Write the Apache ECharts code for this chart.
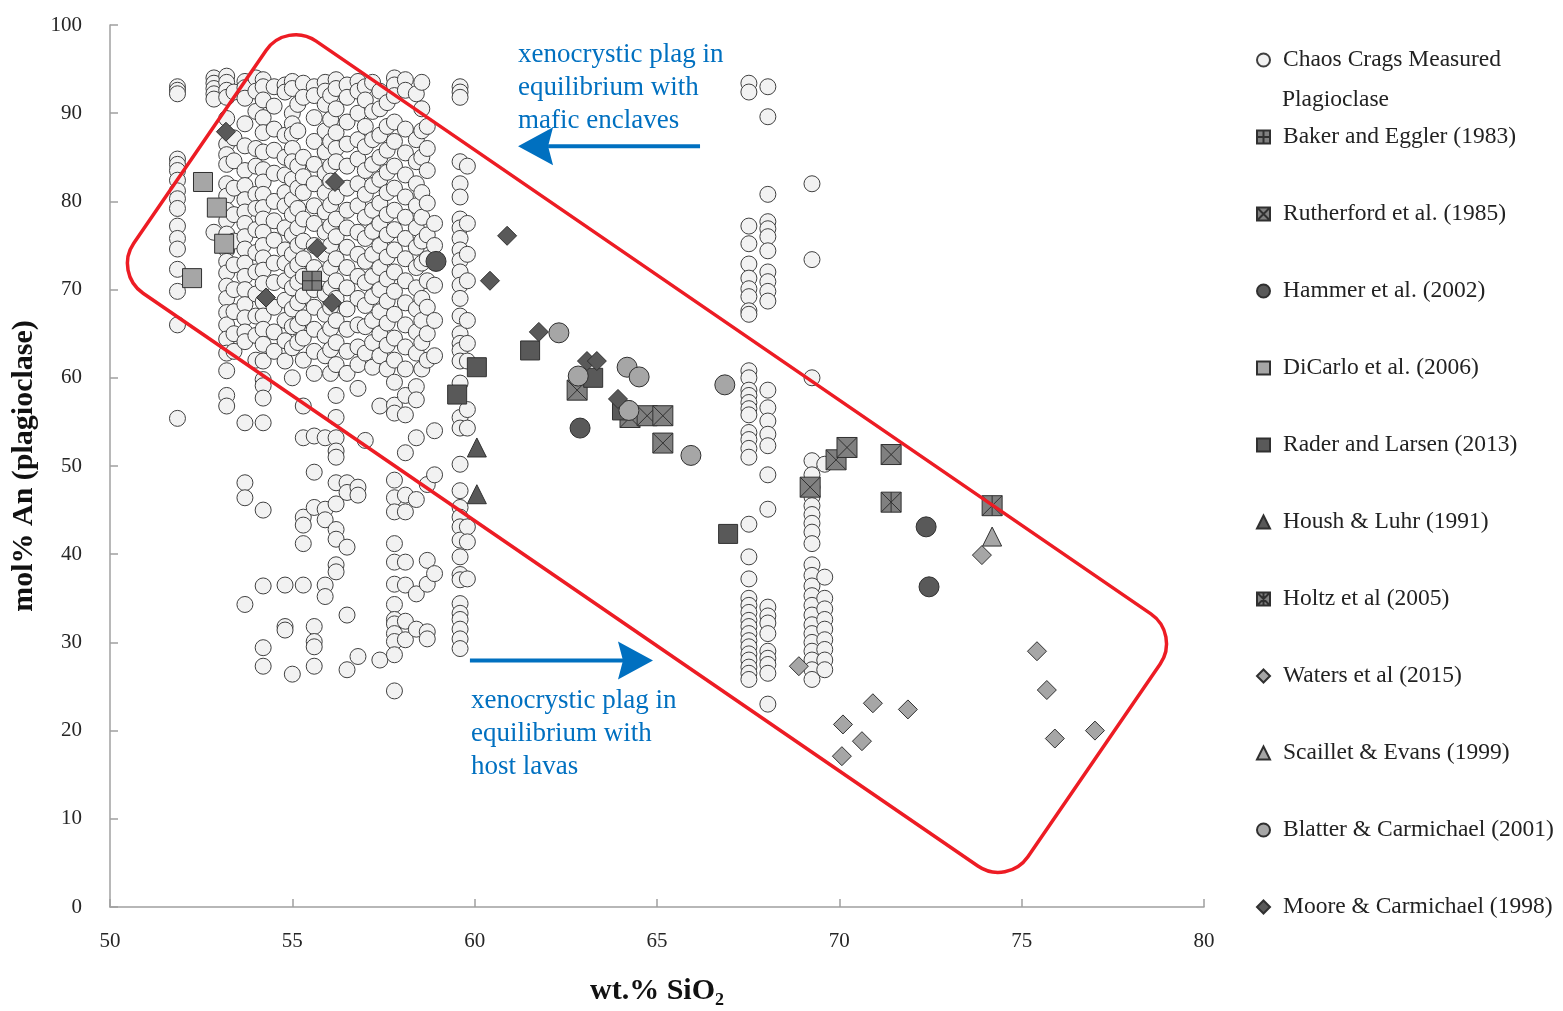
<!DOCTYPE html>
<html>
<head>
<meta charset="utf-8">
<title>Plagioclase An vs SiO2</title>
<script src="https://cdn.jsdelivr.net/npm/echarts@6/dist/echarts.min.js"></script>
<style>
  html, body { margin: 0; padding: 0; background: #ffffff; }
  #chart { width: 1563px; height: 1011px; }
</style>
</head>
<body>
<div id="chart"></div>
<script>
// Chaos Crags measured plagioclase: [SiO2, [An values]]
const chaosCols = [
  [51.85, [93.0, 92.6, 92.2, 84.8, 84.2, 83.5, 82.4, 81.2, 80.3, 79.2, 77.2, 75.8, 74.6, 72.3, 69.8, 66.0, 55.4]],
  [52.85, [94.0, 93.4, 92.8, 92.2, 91.6, 76.5]],
  [53.2, [94.2, 93.5, 92.6, 91.8, 89.4, 86.5, 85.3, 84.2, 82.0, 80.6, 79.0, 77.8, 76.3, 74.5, 73.2, 71.9, 70.4, 69.0, 67.4, 66.0, 64.4, 62.8, 60.8, 58.0, 56.8]],
  [53.4, [92.4, 87.2, 84.6, 81.5, 78.5, 75.5, 72.8, 70.0, 67.5, 65.0, 63.0]],
  [53.7, [93.6, 92.9, 91.7, 88.8, 86.3, 83.5, 81.8, 80.2, 78.8, 77.5, 76.0, 74.6, 73.0, 71.5, 70.0, 68.3, 66.8, 65.2, 64.1, 54.9, 48.1, 46.4, 34.3]],
  [54.0, [94.0, 92.5, 90.2, 86.0, 84.0, 80.8, 79.2, 76.8, 74.2, 72.0, 69.5, 67.0, 64.8, 62.0]],
  [54.2, [93.8, 93.0, 91.5, 89.5, 87.8, 85.6, 83.6, 82.2, 80.8, 79.3, 78.0, 76.5, 75.0, 73.6, 72.2, 70.7, 68.6, 67.0, 65.5, 63.8, 61.9, 59.8, 59.1, 57.7, 54.9, 45.0, 36.4, 29.4, 27.3]],
  [54.5, [93.0, 90.8, 88.2, 85.8, 83.2, 80.0, 77.8, 75.6, 73.0, 70.8, 68.0, 65.2, 63.0]],
  [54.8, [93.2, 92.4, 87.5, 85.0, 83.0, 81.0, 79.5, 77.0, 74.5, 73.0, 71.0, 68.8, 66.5, 64.2, 61.9, 36.5, 31.8, 31.4]],
  [55.0, [93.6, 92.8, 90.0, 88.8, 87.6, 86.0, 84.5, 82.5, 80.2, 78.5, 76.2, 74.0, 72.2, 70.2, 67.8, 65.8, 63.4, 60.0, 26.4]],
  [55.15, [91.0, 88.0, 84.0, 81.5, 79.2, 77.0, 75.0, 72.8, 70.8, 68.5, 66.0, 64.0]],
  [55.3, [93.4, 91.8, 85.0, 82.8, 81.0, 78.0, 75.5, 73.5, 71.5, 69.3, 66.8, 64.5, 62.0, 56.8, 53.2, 44.2, 43.3, 41.2, 36.5]],
  [55.6, [93.0, 92.0, 89.5, 86.8, 84.2, 82.0, 79.5, 77.5, 75.0, 72.5, 70.0, 68.0, 65.5, 63.0, 60.5, 53.4, 49.3, 45.3, 31.8, 30.1, 29.5, 27.3]],
  [55.9, [93.5, 92.5, 91.0, 88.0, 85.6, 83.2, 81.0, 78.8, 76.5, 74.0, 71.8, 69.5, 67.2, 64.8, 62.5, 53.2, 45.1, 43.9, 36.5, 35.2]],
  [56.05, [92.0, 89.3, 86.8, 84.0, 82.3, 79.6, 77.2, 75.0, 72.5, 70.2, 68.0, 65.6, 63.2, 60.5]],
  [56.2, [93.8, 92.8, 90.5, 87.8, 86.0, 84.5, 80.5, 78.0, 76.0, 73.5, 71.0, 69.0, 66.5, 64.0, 61.5, 58.0, 55.5, 53.2, 51.7, 51.0, 48.1, 45.7, 42.8, 41.7, 38.8, 38.0]],
  [56.5, [93.2, 91.8, 89.0, 86.5, 84.0, 81.5, 79.0, 77.0, 74.8, 72.5, 70.2, 67.8, 65.5, 63.0, 60.5, 48.1, 47.0, 40.8, 33.1, 26.9]],
  [56.8, [93.6, 92.5, 90.0, 87.0, 84.8, 82.0, 79.5, 76.5, 74.0, 71.5, 69.0, 66.0, 63.5, 61.5, 58.8, 47.6, 46.7, 28.4]],
  [57.0, [93.0, 91.5, 88.5, 86.2, 83.5, 80.8, 78.2, 75.8, 73.2, 70.8, 68.2, 65.8, 62.8, 52.9]],
  [57.2, [93.5, 90.2, 87.0, 84.2, 81.8, 79.0, 76.6, 74.0, 71.5, 69.2, 66.5, 64.0, 61.2]],
  [57.4, [92.5, 90.5, 87.5, 85.0, 82.5, 79.8, 77.5, 75.0, 72.5, 70.0, 67.5, 65.0, 62.5, 56.8, 28.0]],
  [57.6, [91.2, 88.5, 85.8, 83.3, 81.0, 78.5, 76.2, 73.7, 71.2, 68.7, 66.2, 63.7, 61.0]],
  [57.8, [94.0, 93.2, 92.0, 89.0, 86.8, 84.0, 81.5, 79.0, 76.8, 74.5, 72.0, 69.8, 67.2, 64.5, 62.0, 59.5, 56.9, 56.0, 48.4, 46.4, 44.8, 41.2, 39.1, 36.6, 34.3, 32.6, 32.1, 31.0, 30.1, 28.6, 24.5]],
  [58.1, [93.8, 92.6, 88.2, 85.5, 83.0, 80.5, 78.2, 75.8, 73.5, 71.0, 68.5, 66.0, 63.5, 61.0, 58.0, 55.8, 51.5, 46.7, 44.8, 39.1, 36.5, 32.4, 30.3]],
  [58.4, [92.2, 87.0, 84.5, 82.0, 79.5, 77.0, 74.8, 72.5, 70.2, 67.8, 65.2, 62.8, 59.0, 57.5, 53.2, 46.2, 35.5, 31.5]],
  [58.55, [93.5, 90.5, 88.0, 85.0, 81.0, 78.2, 75.5, 73.0, 69.0, 66.5, 64.0, 61.0]],
  [58.7, [88.5, 86.0, 83.5, 79.8, 76.2, 73.5, 71.0, 68.0, 65.0, 62.0, 47.9, 39.3, 36.6, 31.2, 30.4]],
  [58.9, [77.5, 75.0, 70.5, 66.5, 62.5, 54.0, 49.0, 37.8]],
  [59.6, [93.0, 92.4, 91.8, 84.5, 82.0, 80.5, 78.0, 77.0, 75.8, 74.5, 73.3, 72.0, 70.5, 69.0, 67.0, 65.0, 63.9, 63.1, 61.9, 59.4, 55.5, 54.3, 50.2, 47.2, 45.3, 44.2, 43.1, 41.6, 39.7, 37.7, 37.1, 34.4, 33.3, 32.6, 31.5, 30.4, 29.3]],
  [59.8, [84.0, 77.5, 74.0, 71.0, 66.5, 63.9, 61.9, 56.4, 54.3, 43.1, 41.4, 37.2]],
  [67.52, [93.4, 92.4, 77.2, 75.2, 72.9, 71.3, 70.1, 69.2, 67.6, 67.2, 60.8, 60.0, 58.6, 58.0, 57.2, 56.5, 55.8, 53.8, 53.0, 52.0, 51.0, 43.4, 39.7, 37.2, 35.0, 34.2, 33.4, 32.5, 31.8, 31.0, 30.2, 29.5, 28.7, 28.0, 27.2, 26.5, 25.8]],
  [68.04, [93.0, 89.6, 80.8, 77.7, 76.9, 76.0, 74.4, 72.0, 70.9, 69.8, 68.7, 58.6, 56.6, 55.1, 53.6, 52.3, 49.0, 45.1, 34.0, 33.0, 32.2, 31.0, 29.0, 28.2, 27.5, 26.5, 23.0]],
  [69.25, [82.0, 73.4, 60.0, 50.6, 49.0, 47.6, 46.5, 45.5, 44.5, 43.5, 42.5, 41.2, 38.8, 37.6, 36.4, 35.3, 34.2, 33.1, 32.0, 31.0, 30.0, 29.0, 28.0, 26.9, 25.8]],
  [69.6, [50.2, 37.4, 35.0, 33.8, 32.6, 31.5, 30.3, 29.2, 28.0, 26.9]]
];
const chaosData = chaosCols.flatMap(([x, ys]) => ys.map((y) => [x, y]));

// experimental / literature data [SiO2, An]
const bakerData = [[55.54, 71.0]];
const rutherfordData = [[62.81, 58.6], [64.26, 55.5], [64.73, 55.7], [65.16, 55.7], [65.16, 52.6],
  [69.2, 47.6], [69.91, 50.7], [70.21, 52.1], [71.42, 51.3]];
const hammerData = [[58.94, 73.2], [62.89, 54.3], [72.38, 43.1], [72.46, 36.3]];
const dicarloData = [[52.55, 82.2], [52.93, 79.3], [53.13, 75.2], [52.25, 71.3]];
const raderData = [[59.52, 58.1], [60.06, 61.2], [61.52, 63.1], [63.25, 60.0], [64.04, 56.3], [66.95, 42.3]];
const houshData = [[60.06, 52.1], [60.06, 46.8]];
const holtzData = [[71.42, 45.9], [74.19, 45.5]];
const watersData = [[68.89, 27.3], [70.1, 20.7], [70.62, 18.8], [70.07, 17.1], [70.92, 23.1], [71.88, 22.4],
  [73.91, 39.9], [75.42, 29.0], [75.69, 24.6], [75.91, 19.1], [77.01, 20.0]];
const scailletData = [[74.19, 42.0]];
const blatterData = [[62.31, 65.1], [62.84, 60.2], [64.18, 61.2], [64.51, 60.1], [64.23, 56.3], [65.93, 51.2], [66.86, 59.2]];
const mooreData = [[53.18, 87.9], [56.17, 82.2], [55.68, 74.7], [54.28, 69.1], [56.09, 68.5], [60.42, 71.0],
  [60.89, 76.1], [61.76, 65.2], [63.08, 61.9], [63.35, 61.9], [63.93, 57.6]];

// annotations, in data units
const boxCorners = [[54.85, 100.45], [50.08, 71.93], [79.37, 30.89]]; // top, left, right corner
const arrowLeft = [[66.18, 86.25], [61.19, 86.25]];
const arrowRight = [[59.87, 27.96], [64.89, 27.96]];
const noteTop = { at: [61.19, 98.5], text: 'xenocrystic plag in\nequilibrium with\nmafic enclaves' };
const noteBottom = { at: [59.9, 25.2], text: 'xenocrystic plag in\nequilibrium with\nhost lavas' };

const SERIF = '"Liberation Serif", "Times New Roman", serif';
const PLUS = 'path://M0,0H20V20H0Z M10,0V20 M0,10H20';
const CROSS = 'path://M0,0H20V20H0Z M0,0L20,20 M20,0L0,20';
const STAR = 'path://M0,0H20V20H0Z M0,0L20,20 M20,0L0,20 M10,0V20';

function scatter(name, data, symbol, size, fill) {
  return {
    name: name,
    type: 'scatter',
    data: data,
    symbol: symbol,
    symbolSize: size,
    itemStyle: { color: fill, borderColor: '#303030', borderWidth: 1, opacity: 1 },
    emphasis: { disabled: true },
    silent: true
  };
}

const series = [
  scatter('Chaos Crags Measured', chaosData, 'circle', 16, '#f2f2f2'),
  scatter('Baker and Eggler (1983)', bakerData, PLUS, 19, '#7f7f7f'),
  scatter('Rutherford et al. (1985)', rutherfordData, CROSS, 20, '#808080'),
  scatter('Hammer et al. (2002)', hammerData, 'circle', 20, '#595959'),
  scatter('DiCarlo et al. (2006)', dicarloData, 'rect', 19, '#a6a6a6'),
  scatter('Rader and Larsen (2013)', raderData, 'rect', 19, '#595959'),
  scatter('Housh & Luhr (1991)', houshData, 'triangle', 19, '#595959'),
  scatter('Holtz et al (2005)', holtzData, STAR, 20, '#808080'),
  scatter('Waters et al (2015)', watersData, 'diamond', 19, '#a6a6a6'),
  scatter('Scaillet & Evans (1999)', scailletData, 'triangle', 19, '#a6a6a6'),
  scatter('Blatter & Carmichael (2001)', blatterData, 'circle', 20, '#a6a6a6'),
  scatter('Moore & Carmichael (1998)', mooreData, 'diamond', 19, '#595959')
];
series[0].itemStyle.borderColor = '#404040';

const chart = echarts.init(document.getElementById('chart'));

const option = {
  backgroundColor: '#ffffff',
  animation: false,
  grid: { left: 110, top: 25, right: 359, bottom: 99, containLabel: false },
  legend: {
    orient: 'vertical',
    left: 1256,
    top: 40,
    padding: 0,
    itemWidth: 13,
    itemHeight: 13,
    itemGap: 37,
    selectedMode: false,
    textStyle: { fontFamily: SERIF, fontSize: 23.5, color: '#222', lineHeight: 24, padding: [0, 0, 16, 8] },
    data: series.map((s) => s.name)
  },
  xAxis: {
    type: 'value',
    min: 50,
    max: 80,
    interval: 5,
    name: 'wt.% SiO₂',
    nameLocation: 'middle',
    nameGap: 69,
    nameTextStyle: { fontFamily: SERIF, fontSize: 30, fontWeight: 'bold', color: '#111' },
    axisLine: { lineStyle: { color: '#a0a0a0', width: 1.5 } },
    axisTick: { inside: true, length: 8, lineStyle: { color: '#a0a0a0', width: 1.5 } },
    axisLabel: { fontFamily: SERIF, fontSize: 21, color: '#262626', margin: 24 },
    splitLine: { show: false }
  },
  yAxis: {
    type: 'value',
    min: 0,
    max: 100,
    interval: 10,
    name: 'mol% An (plagioclase)',
    nameLocation: 'middle',
    nameGap: 71,
    nameTextStyle: { fontFamily: SERIF, fontSize: 30, fontWeight: 'bold', color: '#111' },
    axisLine: { show: true, lineStyle: { color: '#a0a0a0', width: 1.5 } },
    axisTick: { show: true, inside: true, length: 8, lineStyle: { color: '#a0a0a0', width: 1.5 } },
    axisLabel: { fontFamily: SERIF, fontSize: 21, color: '#262626', margin: 28, padding: [0, 0, 12, 0] },
    splitLine: { show: false }
  },
  series: series
};

chart.setOption(option);

// annotations drawn on top, positioned through the chart's own axes
function px(p) {
  return chart.convertToPixel({ gridIndex: 0 }, p);
}

function arrow(from, to) {
  const a = px(from), b = px(to);
  const len = Math.hypot(b[0] - a[0], b[1] - a[1]);
  const dx = (b[0] - a[0]) / len, dy = (b[1] - a[1]) / len;
  const nx = -dy, ny = dx;
  const notch = [b[0] - dx * 30, b[1] - dy * 30];
  return [
    { type: 'line', z: 110, shape: { x1: a[0], y1: a[1], x2: notch[0], y2: notch[1] },
      style: { stroke: '#0070c0', lineWidth: 4 } },
    { type: 'polygon', z: 111,
      shape: { points: [b, [b[0] - dx * 35 + nx * 19, b[1] - dy * 35 + ny * 19], notch,
        [b[0] - dx * 35 - nx * 19, b[1] - dy * 35 - ny * 19]] },
      style: { fill: '#0070c0' } }
  ];
}

function note(n) {
  const p = px(n.at);
  return { type: 'text', z: 110, x: p[0], y: p[1],
    style: { text: n.text, fill: '#0070c0', font: '27px ' + SERIF, lineHeight: 33, align: 'left', verticalAlign: 'top' } };
}

const t = px(boxCorners[0]), l = px(boxCorners[1]), r = px(boxCorners[2]);
const ux = r[0] - t[0], uy = r[1] - t[1];
const vx = l[0] - t[0], vy = l[1] - t[1];
const boxLen = Math.hypot(ux, uy), boxWid = Math.hypot(vx, vy);
const boxCx = t[0] + (ux + vx) / 2, boxCy = t[1] + (uy + vy) / 2;

chart.setOption({
  graphic: [
    { type: 'rect', z: 100, x: boxCx, y: boxCy, rotation: -Math.atan2(uy, ux),
      shape: { x: -boxLen / 2, y: -boxWid / 2, width: boxLen, height: boxWid, r: 36 },
      style: { fill: 'none', stroke: '#ed1c24', lineWidth: 3.5 } },
    ...arrow(arrowLeft[0], arrowLeft[1]),
    ...arrow(arrowRight[0], arrowRight[1]),
    note(noteTop),
    note(noteBottom),
    // second line of the first legend entry
    { type: 'text', z: 110, x: 1282, y: 100,
      style: { text: 'Plagioclase', fill: '#222', font: '23.5px ' + SERIF, verticalAlign: 'middle' } }
  ]
});
</script>
</body>
</html>
